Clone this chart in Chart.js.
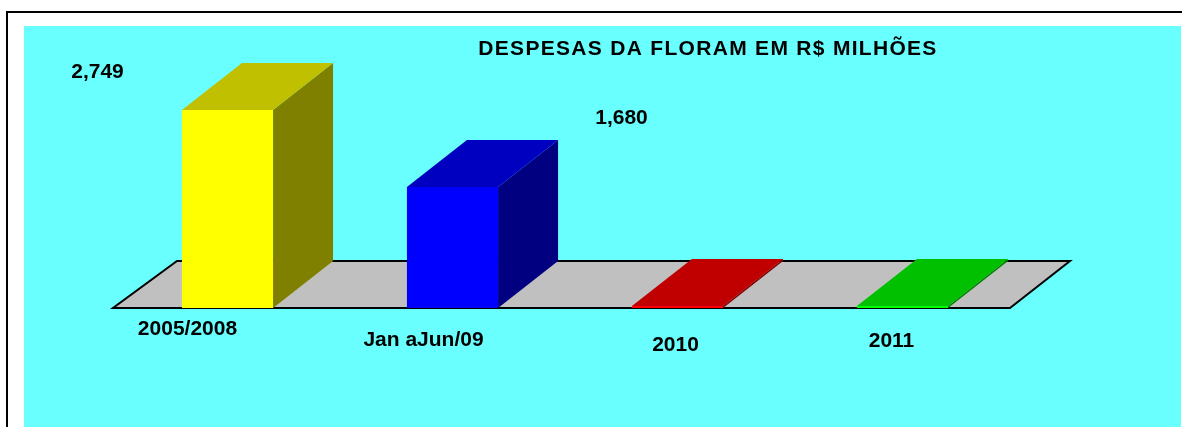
<!DOCTYPE html>
<html>
<head>
<meta charset="utf-8">
<title>Despesas da Floram</title>
<script src="https://cdn.jsdelivr.net/npm/chart.js@4/dist/chart.umd.min.js"></script>
<style>
  body { margin: 0; background: #ffffff; }
  canvas { display: block; }
</style>
</head>
<body>
<canvas id="chart" width="1182" height="427"></canvas>
<script>
const categories = ["2005/2008", "Jan aJun/09", "2010", "2011"];
const despesas = [2.749, 1.68, 0, 0];
const chartTitle = "DESPESAS DA FLORAM EM R$ MILHÕES";

const frontColors = ["#ffff00", "#0000ff", "#ff0000", "#00ff00"];
const topColors = ["#c0c000", "#0000c0", "#c00000", "#00c000"];
const sideColors = ["#808000", "#000080", "#800000", "#008000"];

// the old excel picture has hand-moved labels, so nudge them a bit
const valueLabelNudge = [[-130, -32], [169, -63], [0, -10], [0, -10]];
const tickLabelNudge = [[-40, 27], [-29, 38], [-2, 43], [-11, 39]];

const DEPTH_X = 60;
const DEPTH_Y = -47;
const FONT = "bold 21px 'Liberation Sans', Arial, sans-serif";

function poly(ctx, pts, fill) {
  ctx.beginPath();
  ctx.moveTo(pts[0][0], pts[0][1]);
  for (let i = 1; i < pts.length; i++) ctx.lineTo(pts[i][0], pts[i][1]);
  ctx.closePath();
  ctx.fillStyle = fill;
  ctx.fill();
}

const backdrop = {
  id: "backdrop",
  beforeDraw(chart) {
    const ctx = chart.ctx;
    ctx.save();
    ctx.fillStyle = "#ffffff";
    ctx.fillRect(0, 0, chart.width, chart.height);
    ctx.fillStyle = "#000000";
    ctx.fillRect(6, 11, chart.width - 6, 2);
    ctx.fillRect(6, 11, 2, chart.height - 11);
    ctx.fillStyle = "#6affff";
    ctx.fillRect(24, 26, chart.width - 25, chart.height - 26);

    ctx.fillStyle = "#000000";
    ctx.font = FONT;
    ctx.letterSpacing = "1.3px";
    ctx.textAlign = "center";
    ctx.textBaseline = "alphabetic";
    ctx.fillText(chartTitle, 708, 55);
    ctx.restore();
  },
  beforeDatasetsDraw(chart) {
    const ctx = chart.ctx;
    const a = chart.chartArea;
    const base = chart.scales.y.getPixelForValue(0);
    const pts = [
      [a.left - 2, base],
      [a.right - 5, base],
      [a.right - 5 + DEPTH_X, base + DEPTH_Y],
      [a.left + DEPTH_X + 2, base + DEPTH_Y]
    ];
    ctx.save();
    poly(ctx, pts, "#c0c0c0");
    ctx.strokeStyle = "#000000";
    ctx.lineWidth = 2;
    ctx.lineJoin = "miter";
    ctx.stroke();
    ctx.restore();
  },
  afterDatasetsDraw(chart) {
    const ctx = chart.ctx;
    const bars = chart.getDatasetMeta(0).data;
    ctx.save();
    bars.forEach((bar, i) => {
      const p = bar.getProps(["x", "y", "base", "width"], true);
      const l = p.x - p.width / 2;
      const r = p.x + p.width / 2;
      poly(ctx, [[r, p.y], [r + DEPTH_X, p.y + DEPTH_Y], [r + DEPTH_X, p.base + DEPTH_Y], [r, p.base]], sideColors[i]);
      poly(ctx, [[l, p.y], [l + DEPTH_X, p.y + DEPTH_Y], [r + DEPTH_X, p.y + DEPTH_Y], [r, p.y]], topColors[i]);

      ctx.fillStyle = "#000000";
      ctx.font = FONT;
      ctx.textAlign = "center";
      ctx.textBaseline = "alphabetic";
      if (despesas[i] > 0) {
        const txt = despesas[i].toFixed(3).replace(".", ",");
        ctx.fillText(txt, p.x + valueLabelNudge[i][0], p.y + valueLabelNudge[i][1]);
      }
      ctx.fillText(categories[i], p.x + tickLabelNudge[i][0], p.base + tickLabelNudge[i][1]);
    });
    ctx.restore();
  }
};

const ctx = document.getElementById("chart").getContext("2d");
// eslint-disable-next-line no-unused-vars
const despesasChart = new Chart(ctx, {
  type: "bar",
  data: {
    labels: categories,
    datasets: [
      {
        data: despesas,
        backgroundColor: frontColors,
        borderWidth: 0,
        minBarLength: 2,
        barPercentage: 0.405,
        categoryPercentage: 1
      }
    ]
  },
  options: {
    responsive: false,
    animation: false,
    devicePixelRatio: 1,
    layout: { padding: { left: 115, right: 167, top: 92, bottom: 119 } },
    scales: {
      x: { display: false },
      y: { display: false, min: 0, max: 3 }
    },
    plugins: {
      legend: { display: false },
      title: { display: false },
      tooltip: { enabled: false }
    }
  },
  plugins: [backdrop]
});
</script>
</body>
</html>
